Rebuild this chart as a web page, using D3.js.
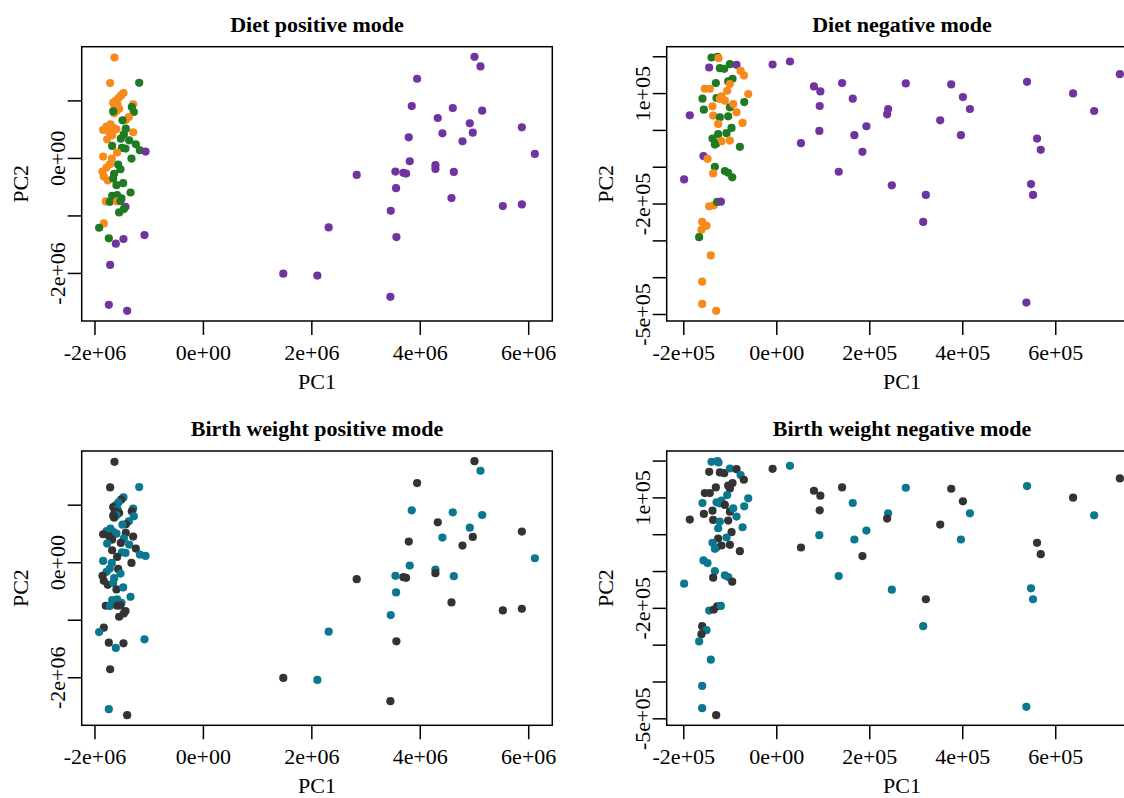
<!DOCTYPE html>
<html>
<head>
<meta charset="utf-8">
<script src="https://cdn.jsdelivr.net/npm/d3@7"></script>
<style>
    body { margin: 0; background: #ffffff; }
    svg { display: block; font-family: "Liberation Serif", "Times New Roman", serif; }
</style>
</head>
<body>
<svg id="chart"></svg>
<script>

// positive mode scores (units of 1e6)
const posPC1 = [
    -1.631, -1.711, -1.175, -1.465, -1.508, -1.557, -1.606, -1.655, -1.575, -1.625,
    -1.545, -1.594, -1.637, -1.286, -1.311, -1.274, -1.655, -1.366, -1.422, -1.483,
    -1.705, -1.778, -1.840, -1.655, -1.729, -1.594, -1.674, -1.766, -1.286, -1.422,
    -1.458, -1.514, -1.360, -1.237, -1.163, -1.495, -1.428, -1.674, -1.582, -1.058,
    -1.317, -1.840, -1.680, -1.717, -1.778, -1.563, -1.520, -1.852, -1.828, -1.754,
    -1.637, -1.655, -1.594, -1.471, -1.335, -1.674, -1.582, -1.502, -1.791, -1.717,
    -1.582, -1.520, -1.428, -1.458, -1.545, -1.828, -1.914, -1.735, -1.465, -1.606,
    -1.077, -1.711, -1.735, -1.397,
    5.009, 5.120, 3.951, 3.852, 4.609, 5.151, 4.332, 4.923, 4.418, 4.978,
    3.797, 4.788, 5.883, 6.123, 3.815, 4.289, 4.289, 3.551, 3.698, 3.748,
    4.628, 2.837, 3.563, 4.585, 5.532, 5.883, 3.465, 2.320, 3.569, 1.483,
    2.111, 3.458
];
const posPC2 = [
    1.746, 1.301, 1.306, 1.127, 1.087, 1.040, 0.994, 0.960, 0.925, 0.884,
    0.855, 0.815, 0.775, 0.931, 0.884, 0.798, 0.809, 0.711, 0.659, 0.653,
    0.584, 0.543, 0.486, 0.526, 0.451, 0.497, 0.393, 0.324, 0.445, 0.509,
    0.410, 0.335, 0.306, 0.237, 0.133, 0.173, 0.162, 0.208, 0.092, 0.110,
    -0.012, 0.023, -0.012, -0.110, -0.168, -0.116, -0.197, -0.237, -0.324, -0.393,
    -0.277, -0.358, -0.474, -0.439, -0.601, -0.659, -0.647, -0.705, -0.757, -0.763,
    -0.757, -0.751, -0.850, -0.890, -0.948, -1.139, -1.214, -1.399, -1.410, -1.491,
    -1.341, -1.861, -2.555, -2.659,
    1.757, 1.590, 1.376, 0.902, 0.867, 0.821, 0.694, 0.601, 0.428, 0.439,
    0.358, 0.289, 0.532, 0.069, -0.058, -0.127, -0.191, -0.237, -0.260, -0.272,
    -0.243, -0.295, -0.526, -0.699, -0.838, -0.809, -0.919, -1.208, -1.376, -2.012,
    -2.046, -2.416
];
// diet group per sample: 0 orange, 1 green, 2 purple
const posDiet = [
    0, 0, 1, 0, 0, 0, 0, 0, 0, 0,
    0, 0, 0, 0, 1, 1, 1, 0, 0, 1,
    0, 0, 0, 0, 0, 0, 0, 0, 0, 1,
    1, 1, 1, 1, 1, 1, 1, 1, 0, 2,
    1, 0, 0, 0, 0, 1, 1, 0, 0, 0,
    1, 1, 1, 1, 1, 1, 1, 1, 0, 1,
    0, 1, 2, 1, 1, 0, 1, 1, 2, 2,
    2, 2, 2, 2,
    2, 2, 2, 2, 2, 2, 2, 2, 2, 2,
    2, 2, 2, 2, 2, 2, 2, 2, 2, 2,
    2, 2, 2, 2, 2, 2, 2, 2, 2, 2,
    2, 2
];
// birth weight group per sample: 0 dark, 1 teal
const posBW = [
    0, 0, 1, 1, 0, 1, 1, 0, 1, 0,
    0, 1, 0, 1, 0, 1, 0, 1, 0, 1,
    1, 1, 0, 1, 0, 1, 0, 1, 0, 0,
    1, 0, 1, 0, 1, 1, 1, 0, 0, 1,
    0, 1, 1, 1, 1, 0, 1, 0, 0, 0,
    1, 1, 0, 1, 1, 1, 1, 1, 0, 1,
    0, 0, 0, 0, 0, 0, 1, 0, 0, 1,
    1, 0, 1, 0,
    0, 1, 0, 1, 1, 1, 0, 1, 1, 0,
    0, 0, 0, 1, 1, 1, 0, 1, 0, 0,
    1, 0, 1, 0, 0, 0, 1, 1, 0, 0,
    1, 0
];

// negative mode scores (units of 1e5)
const negPC1 = [
    -1.393, -1.264, -1.242, -1.443, -1.214, -1.120, -0.998, -0.855, -0.768, -0.697,
    -1.300, -1.537, -1.429, -1.034, -0.941, -0.998, -1.056, -0.603, -0.689, -1.587,
    -1.558, -1.285, -1.178, -1.214, -1.372, -1.106, -0.998, -0.926, -1.860, -1.357,
    -1.214, -1.034, -0.855, -1.250, -0.725, -0.962, -1.070, -1.250, -1.372, -1.285,
    -1.178, -0.998, -0.783, -1.321, -1.566, -1.479, -1.321, -1.357, -1.106, -1.034,
    -0.948, -1.982, -1.443, -1.343, -1.271, -1.192, -1.594, -1.501, -1.609, -1.659,
    -1.408, -1.594, -1.594, -1.293,
    -0.079, 0.294, 0.811, 0.948, 0.934, 1.415, 1.645, 0.926, 0.531, 1.680,
    1.939, 1.853, 1.343, 2.406, 2.384, 2.485, 2.786, 3.526, 3.763, 4.014,
    4.165, 3.971, 3.217, 3.160, 5.393, 5.609, 5.688, 5.479, 5.522, 5.379,
    6.384, 6.837, 7.390
];
const negPC2 = [
    1.966, 1.984, 1.948, 1.695, 1.677, 1.659, 1.785, 1.767, 1.605, 1.479,
    1.271, 1.118, 1.118, 1.317, 1.389, 1.244, 1.064, 0.974, 0.757, 0.848,
    0.550, 0.866, 0.911, 0.839, 0.640, 0.794, 0.613, 0.703, 0.397, 0.388,
    0.343, 0.370, 0.478, 0.162, 0.189, 0.054, -0.090, -0.117, -0.234, -0.361,
    -0.307, -0.289, -0.460, -0.397, -0.712, -0.784, -1.001, -1.181, -1.118, -1.163,
    -1.289, -1.344, -2.074, -2.047, -1.957, -1.948, -2.498, -2.606, -2.714, -2.913,
    -3.408, -4.121, -4.725, -4.914,
    1.776, 1.858, 1.181, 1.046, 0.649, 1.271, 0.848, -0.027, -0.361, -0.144,
    0.099, -0.595, -1.136, 0.568, 0.424, -1.506, 1.262, 0.261, 1.235, 0.893,
    0.568, -0.144, -1.767, -2.498, 1.307, -0.234, -0.541, -1.470, -1.767, -4.689,
    0.992, 0.514, 1.515
];
const negDiet = [
    1, 1, 0, 2, 1, 1, 1, 2, 0, 0,
    1, 0, 0, 1, 1, 0, 0, 0, 1, 1,
    1, 1, 0, 0, 0, 0, 1, 0, 2, 0,
    1, 1, 0, 0, 0, 1, 1, 1, 1, 1,
    0, 0, 1, 1, 2, 0, 1, 0, 1, 1,
    1, 2, 0, 0, 1, 2, 0, 0, 0, 1,
    0, 0, 0, 0,
    2, 2, 2, 2, 2, 2, 2, 2, 2, 2,
    2, 2, 2, 2, 2, 2, 2, 2, 2, 2,
    2, 2, 2, 2, 2, 2, 2, 2, 2, 2,
    2, 2, 2
];
const negBW = [
    1, 1, 1, 0, 0, 0, 1, 0, 1, 0,
    0, 0, 0, 0, 0, 0, 1, 1, 1, 1,
    0, 1, 1, 1, 0, 0, 0, 1, 0, 0,
    1, 0, 1, 1, 1, 0, 1, 0, 1, 1,
    0, 0, 0, 1, 1, 1, 1, 0, 1, 1,
    0, 1, 1, 0, 0, 1, 0, 1, 0, 1,
    1, 1, 1, 0,
    0, 1, 0, 0, 0, 0, 1, 1, 0, 1,
    1, 0, 1, 1, 0, 1, 1, 0, 0, 0,
    1, 1, 0, 1, 1, 0, 0, 1, 1, 1,
    0, 1, 0
];

const dietColors = ["#f68a1c", "#1f7a22", "#7034a0"];
const bwColors = ["#333333", "#0b7890"];

const posXTicks = [-2e6, 0, 2e6, 4e6, 6e6];
const posYTicks = [-2e6, -1e6, 0, 1e6];
const posYLabels = [-2e6, 0];
const negXTicks = [-2e5, 0, 2e5, 4e5, 6e5];
const negYTicks = [-5e5, -4e5, -3e5, -2e5, -1e5, 0, 1e5, 2e5];
const negYLabels = [-5e5, -2e5, 1e5];

const titles = ["Diet positive mode", "Diet negative mode", "Birth weight positive mode", "Birth weight negative mode"];

const width = 1124;
const height = 798;
const boxW = 470.6;
const boxH = 274.3;
const fontSize = 22;

const svg = d3.select("#chart")
    .attr("width", width)
    .attr("height", height);

// R style exponent labels, e.g. -2e+06
function rSci(v) {
    if (v === 0) return "0e+00";
    const e = Math.floor(Math.log10(Math.abs(v)) + 1e-9);
    const m = Math.round(v / Math.pow(10, e));
    return m + "e" + (e < 0 ? "-" : "+") + String(Math.abs(e)).padStart(2, "0");
}

// R pads the data range by 4% on each side
function rDomain(vals) {
    const [lo, hi] = d3.extent(vals);
    const pad = (hi - lo) * 0.04;
    return [lo - pad, hi + pad];
}

function drawPanel(left, top, title, xs, ys, colors, xTicks, yTicks, yLabels) {

    const xScale = d3.scaleLinear().domain(rDomain(xs)).range([left, left + boxW]);
    const yScale = d3.scaleLinear().domain(rDomain(ys)).range([top + boxH, top]);

    const g = svg.append("g");

    g.append("text")
        .attr("x", left + boxW / 2)
        .attr("y", top - 15)
        .attr("text-anchor", "middle")
        .attr("font-size", fontSize)
        .attr("font-weight", "bold")
        .text(title);

    // x axis
    const xAxis = g.append("g")
        .attr("transform", `translate(0,${top + boxH})`)
        .call(d3.axisBottom(xScale).tickValues(xTicks).tickSize(14).tickFormat(rSci));
    xAxis.select(".domain").remove();
    xAxis.selectAll(".tick line").attr("stroke", "#000").attr("stroke-width", 1.5);
    xAxis.selectAll(".tick text")
        .attr("y", 39)
        .attr("dy", 0)
        .attr("fill", "#000")
        .attr("font-size", fontSize)
        .attr("font-family", "Liberation Serif, serif");

    // y axis, labels rotated as in base R
    const yAxis = g.append("g")
        .attr("transform", `translate(${left},0)`)
        .call(d3.axisLeft(yScale).tickValues(yTicks).tickSize(14)
            .tickFormat(d => yLabels.includes(d) ? rSci(d) : ""));
    yAxis.select(".domain").remove();
    yAxis.selectAll(".tick line").attr("stroke", "#000").attr("stroke-width", 1.5);
    yAxis.selectAll(".tick text")
        .attr("x", 0)
        .attr("dy", 0)
        .attr("transform", "translate(-17,0) rotate(-90)")
        .attr("text-anchor", "middle")
        .attr("fill", "#000")
        .attr("font-size", fontSize)
        .attr("font-family", "Liberation Serif, serif");

    g.append("text")
        .attr("x", left + boxW / 2)
        .attr("y", top + boxH + 68)
        .attr("text-anchor", "middle")
        .attr("font-size", fontSize)
        .text("PC1");

    g.append("text")
        .attr("transform", `translate(${left - 54},${top + boxH / 2}) rotate(-90)`)
        .attr("text-anchor", "middle")
        .attr("font-size", fontSize)
        .text("PC2");

    g.append("g").selectAll("circle")
        .data(xs)
        .join("circle")
        .attr("cx", d => xScale(d))
        .attr("cy", (d, i) => yScale(ys[i]))
        .attr("r", 4.1)
        .attr("fill", (d, i) => colors[i]);

    g.append("rect")
        .attr("x", left)
        .attr("y", top)
        .attr("width", boxW)
        .attr("height", boxH)
        .attr("fill", "none")
        .attr("stroke", "#000")
        .attr("stroke-width", 1.5);
}

const posX = posPC1.map(d => d * 1e6);
const posY = posPC2.map(d => d * 1e6);
const negX = negPC1.map(d => d * 1e5);
const negY = negPC2.map(d => d * 1e5);

drawPanel(81.7, 46.7, titles[0], posX, posY, posDiet.map(k => dietColors[k]), posXTicks, posYTicks, posYLabels);
drawPanel(666.7, 46.7, titles[1], negX, negY, negDiet.map(k => dietColors[k]), negXTicks, negYTicks, negYLabels);
drawPanel(81.7, 451, titles[2], posX, posY, posBW.map(k => bwColors[k]), posXTicks, posYTicks, posYLabels);
drawPanel(666.7, 451, titles[3], negX, negY, negBW.map(k => bwColors[k]), negXTicks, negYTicks, negYLabels);

</script>
</body>
</html>
